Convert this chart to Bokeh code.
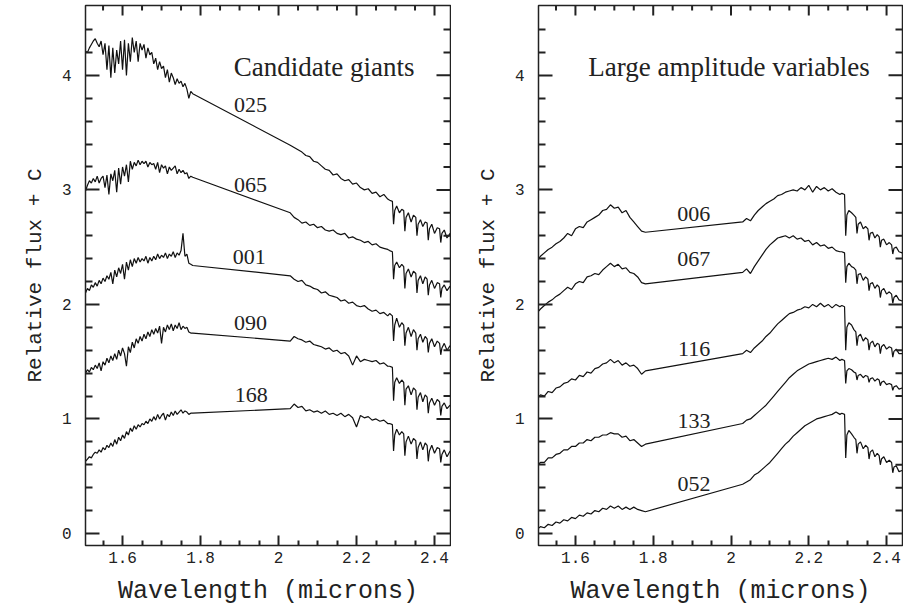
from bokeh.plotting import figure
from bokeh.layouts import row
from bokeh.models import Range1d, FixedTicker, LinearAxis, Label
from bokeh.embed import file_html
from bokeh.resources import INLINE

# ---------------- wavelength grids (microns) ----------------
H_FINE = [1.500, 1.505, 1.510, 1.515, 1.520, 1.525, 1.530, 1.535, 1.540, 1.545,
          1.550, 1.555, 1.560, 1.565, 1.570, 1.575, 1.580, 1.585, 1.590, 1.595,
          1.600, 1.605, 1.610, 1.615, 1.620, 1.625, 1.630, 1.635, 1.640, 1.645,
          1.650, 1.655, 1.660, 1.665, 1.670, 1.675, 1.680, 1.685, 1.690, 1.695,
          1.700, 1.705, 1.710, 1.715, 1.720, 1.725, 1.730, 1.735, 1.740, 1.745,
          1.750, 1.755, 1.760, 1.765, 1.770, 1.775, 1.780]
H_COARSE = [1.50, 1.51, 1.52, 1.53, 1.54, 1.55, 1.56, 1.57, 1.58, 1.59,
            1.60, 1.61, 1.62, 1.63, 1.64, 1.65, 1.66, 1.67, 1.68, 1.69,
            1.70, 1.71, 1.72, 1.73, 1.74, 1.75, 1.76, 1.77, 1.78]
K_WL = [2.03, 2.04, 2.05, 2.06, 2.07, 2.08, 2.09, 2.10, 2.11, 2.12,
        2.13, 2.14, 2.15, 2.16, 2.17, 2.18, 2.19, 2.20, 2.21, 2.22,
        2.23, 2.24, 2.25, 2.26, 2.27, 2.28]
CO_WL = [2.285, 2.292, 2.295, 2.298, 2.303, 2.310, 2.316, 2.321, 2.324, 2.327,
         2.333, 2.340, 2.346, 2.352, 2.355, 2.358, 2.364, 2.370, 2.376, 2.381,
         2.384, 2.387, 2.393, 2.400, 2.407, 2.413, 2.416, 2.419, 2.425, 2.432,
         2.440]

# ---------------- Candidate giants (left) ----------------
S025_H = [4.20, 4.21, 4.20, 4.24, 4.27, 4.30, 4.32, 4.28, 4.25, 4.30,
          4.18, 4.28, 4.05, 4.26, 3.98, 4.24, 4.02, 4.22, 4.10, 4.30,
          4.05, 4.31, 4.00, 4.28, 4.12, 4.33, 4.20, 4.30, 4.12, 4.28,
          4.22, 4.27, 4.15, 4.24, 4.18, 4.20, 4.10, 4.15, 4.05, 4.12,
          4.06, 4.08, 3.98, 4.05, 3.94, 4.02, 3.98, 3.92, 3.97, 3.93,
          3.95, 3.90, 3.93, 3.88, 3.80, 3.86, 3.84]
S025_K = [3.39, 3.37, 3.35, 3.33, 3.30, 3.29, 3.25, 3.24, 3.21, 3.18,
          3.17, 3.13, 3.14, 3.10, 3.08, 3.09, 3.05, 3.06, 3.02, 3.00,
          3.01, 2.97, 2.98, 2.94, 2.96, 2.92]
S025_CO = [2.91, 2.90, 2.70, 2.82, 2.86, 2.80, 2.83, 2.82, 2.64, 2.76,
           2.80, 2.72, 2.78, 2.76, 2.60, 2.70, 2.74, 2.68, 2.72, 2.71,
           2.56, 2.66, 2.70, 2.62, 2.67, 2.66, 2.54, 2.62, 2.65, 2.58,
           2.62]

S065_H = [3.00, 2.99, 3.04, 3.08, 3.06, 3.10, 3.07, 3.12, 3.06, 3.10,
          3.12, 3.02, 3.13, 2.96, 3.14, 3.08, 3.17, 2.98, 3.19, 3.05,
          3.20, 3.12, 3.22, 3.07, 3.25, 3.18, 3.24, 3.21, 3.26, 3.22,
          3.25, 3.23, 3.25, 3.20, 3.24, 3.22, 3.23, 3.18, 3.24, 3.15,
          3.22, 3.19, 3.21, 3.14, 3.20, 3.17, 3.19, 3.21, 3.14, 3.18,
          3.15, 3.17, 3.14, 3.15, 3.10, 3.12, 3.11]
S065_K = [2.80, 2.76, 2.74, 2.71, 2.72, 2.69, 2.70, 2.67, 2.68, 2.65,
          2.64, 2.65, 2.62, 2.61, 2.62, 2.58, 2.59, 2.57, 2.56, 2.54,
          2.55, 2.52, 2.53, 2.50, 2.49, 2.48]
S065_CO = [2.47, 2.46, 2.22, 2.34, 2.37, 2.32, 2.35, 2.33, 2.14, 2.27,
           2.31, 2.24, 2.29, 2.27, 2.10, 2.21, 2.25, 2.18, 2.24, 2.22,
           2.08, 2.17, 2.21, 2.14, 2.19, 2.18, 2.06, 2.14, 2.17, 2.12,
           2.16]

S001_H = [2.06, 2.10, 2.14, 2.12, 2.17, 2.15, 2.19, 2.16, 2.21, 2.18,
          2.23, 2.20, 2.25, 2.22, 2.28, 2.18, 2.30, 2.24, 2.32, 2.27,
          2.35, 2.22, 2.37, 2.30, 2.39, 2.33, 2.40, 2.36, 2.41, 2.37,
          2.40, 2.38, 2.42, 2.36, 2.41, 2.38, 2.42, 2.39, 2.44, 2.40,
          2.43, 2.41, 2.45, 2.40, 2.44, 2.42, 2.46, 2.41, 2.45, 2.43,
          2.47, 2.62, 2.42, 2.44, 2.36, 2.35, 2.34]
S001_K = [2.25, 2.22, 2.20, 2.21, 2.17, 2.16, 2.14, 2.13, 2.10, 2.11,
          2.08, 2.07, 2.06, 2.03, 2.04, 2.01, 2.02, 1.99, 1.98, 1.99,
          1.96, 1.94, 1.95, 1.92, 1.93, 1.90]
S001_CO = [1.92, 1.90, 1.68, 1.82, 1.88, 1.80, 1.84, 1.82, 1.64, 1.75,
           1.80, 1.72, 1.78, 1.75, 1.60, 1.70, 1.74, 1.67, 1.72, 1.70,
           1.58, 1.66, 1.70, 1.63, 1.68, 1.66, 1.56, 1.62, 1.66, 1.60,
           1.64]

S090_H = [1.38, 1.40, 1.43, 1.41, 1.45, 1.43, 1.47, 1.44, 1.49, 1.42,
          1.50, 1.47, 1.53, 1.49, 1.55, 1.51, 1.57, 1.52, 1.60, 1.55,
          1.62, 1.57, 1.46, 1.63, 1.58, 1.67, 1.62, 1.70, 1.66, 1.72,
          1.68, 1.74, 1.70, 1.76, 1.72, 1.78, 1.74, 1.79, 1.75, 1.81,
          1.66, 1.80, 1.76, 1.82, 1.78, 1.83, 1.77, 1.82, 1.79, 1.84,
          1.78, 1.81, 1.79, 1.80, 1.76, 1.75, 1.75]
S090_K = [1.68, 1.72, 1.70, 1.69, 1.67, 1.68, 1.65, 1.64, 1.63, 1.61,
          1.62, 1.59, 1.60, 1.57, 1.58, 1.55, 1.47, 1.55, 1.50, 1.52,
          1.51, 1.50, 1.51, 1.48, 1.49, 1.46]
S090_CO = [1.46, 1.45, 1.16, 1.32, 1.36, 1.31, 1.34, 1.32, 1.12, 1.26,
           1.29, 1.21, 1.27, 1.25, 1.08, 1.19, 1.23, 1.15, 1.21, 1.19,
           1.05, 1.14, 1.18, 1.12, 1.17, 1.15, 1.03, 1.11, 1.14, 1.09,
           1.12]

S168_H = [0.60, 0.63, 0.65, 0.67, 0.66, 0.69, 0.71, 0.70, 0.73, 0.71,
          0.75, 0.73, 0.77, 0.75, 0.79, 0.76, 0.82, 0.78, 0.84, 0.81,
          0.86, 0.83, 0.89, 0.86, 0.92, 0.89, 0.94, 0.91, 0.95, 0.93,
          0.96, 0.95, 0.98, 0.96, 1.00, 0.98, 1.02, 0.99, 1.04, 1.00,
          1.03, 1.05, 0.99, 1.04, 1.02, 1.06, 1.03, 1.07, 1.04, 1.06,
          1.08, 1.05, 1.07, 1.06, 1.04, 1.05, 1.05]
S168_K = [1.09, 1.13, 1.10, 1.11, 1.07, 1.08, 1.06, 1.07, 1.05, 1.07,
          1.04, 1.05, 1.03, 1.05, 1.02, 1.04, 1.01, 0.93, 1.03, 1.01,
          1.02, 0.99, 1.00, 0.98, 0.99, 0.96]
S168_CO = [0.96, 0.95, 0.72, 0.86, 0.91, 0.86, 0.89, 0.87, 0.68, 0.80,
           0.85, 0.78, 0.83, 0.81, 0.65, 0.75, 0.80, 0.73, 0.79, 0.77,
           0.63, 0.72, 0.77, 0.70, 0.75, 0.74, 0.62, 0.69, 0.73, 0.67,
           0.72]

# ---------------- Large amplitude variables (right) ----------------
S006_H = [2.38, 2.42, 2.45, 2.48, 2.50, 2.53, 2.55, 2.58, 2.62, 2.60,
          2.66, 2.68, 2.67, 2.72, 2.74, 2.76, 2.78, 2.82, 2.83, 2.87,
          2.84, 2.85, 2.80, 2.82, 2.76, 2.72, 2.68, 2.64, 2.63]
S006_K = [2.72, 2.75, 2.73, 2.78, 2.82, 2.85, 2.88, 2.90, 2.92, 2.95,
          2.96, 2.98, 2.99, 3.00, 2.99, 3.02, 3.00, 3.04, 2.98, 3.03,
          3.00, 3.02, 2.99, 3.01, 2.98, 2.96]
S006_CO = [2.97, 2.96, 2.60, 2.78, 2.82, 2.80, 2.78, 2.76, 2.62, 2.70,
           2.72, 2.66, 2.68, 2.66, 2.56, 2.62, 2.63, 2.58, 2.61, 2.59,
           2.50, 2.56, 2.57, 2.52, 2.54, 2.52, 2.44, 2.49, 2.50, 2.46,
           2.45]

S067_H = [1.92, 1.96, 1.99, 2.02, 2.04, 2.07, 2.09, 2.12, 2.15, 2.13,
          2.18, 2.20, 2.19, 2.24, 2.25, 2.27, 2.26, 2.30, 2.33, 2.36,
          2.33, 2.35, 2.31, 2.32, 2.28, 2.27, 2.24, 2.19, 2.18]
S067_K = [2.28, 2.31, 2.27, 2.33, 2.38, 2.43, 2.48, 2.52, 2.55, 2.58,
          2.59, 2.60, 2.58, 2.60, 2.57, 2.58, 2.55, 2.56, 2.52, 2.54,
          2.51, 2.52, 2.49, 2.50, 2.47, 2.46]
S067_CO = [2.46, 2.45, 2.19, 2.33, 2.36, 2.33, 2.32, 2.30, 2.18, 2.26,
           2.27, 2.21, 2.24, 2.22, 2.12, 2.18, 2.19, 2.14, 2.17, 2.15,
           2.06, 2.12, 2.14, 2.09, 2.11, 2.09, 2.01, 2.06, 2.08, 2.04,
           2.03]

S116_H = [1.18, 1.21, 1.20, 1.24, 1.23, 1.27, 1.28, 1.31, 1.32, 1.35,
          1.34, 1.38, 1.37, 1.41, 1.40, 1.44, 1.45, 1.48, 1.49, 1.52,
          1.49, 1.51, 1.47, 1.49, 1.46, 1.47, 1.44, 1.39, 1.42]
S116_K = [1.57, 1.60, 1.58, 1.62, 1.65, 1.68, 1.72, 1.75, 1.79, 1.83,
          1.86, 1.89, 1.92, 1.93, 1.95, 1.96, 1.98, 1.97, 2.00, 1.98,
          2.01, 1.98, 2.00, 1.97, 2.00, 1.98]
S116_CO = [1.99, 1.98, 1.60, 1.80, 1.84, 1.82, 1.78, 1.76, 1.64, 1.72,
           1.74, 1.68, 1.71, 1.69, 1.60, 1.66, 1.68, 1.63, 1.66, 1.65,
           1.57, 1.63, 1.65, 1.61, 1.63, 1.62, 1.54, 1.59, 1.61, 1.57,
           1.57]

S133_H = [0.59, 0.62, 0.62, 0.66, 0.66, 0.69, 0.70, 0.73, 0.73, 0.76,
          0.76, 0.79, 0.79, 0.82, 0.81, 0.84, 0.84, 0.86, 0.86, 0.88,
          0.87, 0.87, 0.84, 0.85, 0.81, 0.82, 0.79, 0.76, 0.78]
S133_K = [0.96, 0.99, 1.00, 1.03, 1.06, 1.09, 1.12, 1.16, 1.20, 1.24,
          1.28, 1.32, 1.36, 1.39, 1.42, 1.44, 1.46, 1.48, 1.49, 1.50,
          1.51, 1.52, 1.53, 1.52, 1.54, 1.51]
S133_CO = [1.52, 1.51, 1.31, 1.42, 1.44, 1.43, 1.41, 1.40, 1.34, 1.38,
           1.39, 1.36, 1.38, 1.37, 1.32, 1.35, 1.36, 1.33, 1.35, 1.34,
           1.29, 1.32, 1.33, 1.30, 1.31, 1.30, 1.25, 1.28, 1.29, 1.26,
           1.27]

S052_H = [0.03, 0.06, 0.05, 0.08, 0.07, 0.10, 0.09, 0.12, 0.11, 0.14,
          0.13, 0.16, 0.15, 0.18, 0.17, 0.20, 0.19, 0.22, 0.21, 0.24,
          0.22, 0.24, 0.21, 0.23, 0.21, 0.23, 0.21, 0.20, 0.19]
S052_K = [0.43, 0.45, 0.47, 0.51, 0.53, 0.56, 0.59, 0.62, 0.66, 0.70,
          0.74, 0.78, 0.81, 0.85, 0.88, 0.91, 0.94, 0.96, 0.98, 1.00,
          1.01, 1.02, 1.03, 1.04, 1.06, 1.04]
S052_CO = [1.05, 1.04, 0.66, 0.86, 0.90, 0.87, 0.84, 0.82, 0.70, 0.78,
           0.80, 0.74, 0.77, 0.75, 0.65, 0.71, 0.73, 0.67, 0.70, 0.68,
           0.60, 0.65, 0.67, 0.62, 0.64, 0.62, 0.53, 0.58, 0.59, 0.54,
           0.55]

# ---------------- labels ----------------
GIANT_IDS = ["025", "065", "001", "090", "168"]
GIANT_LX = [1.928, 1.928, 1.925, 1.928, 1.930]
GIANT_LY = [3.74, 3.04, 2.41, 1.84, 1.21]
VAR_IDS = ["006", "067", "116", "133", "052"]
VAR_LX = [1.904, 1.904, 1.905, 1.905, 1.905]
VAR_LY = [2.79, 2.40, 1.61, 0.98, 0.43]

X_START, X_END = 1.505, 2.441
Y_START, Y_END = -0.105, 4.61
X_MAJOR = [1.6, 1.8, 2.0, 2.2, 2.4]
X_MINOR = [1.55, 1.65, 1.7, 1.75, 1.85, 1.9, 1.95, 2.05, 2.1, 2.15, 2.25, 2.3, 2.35]
X_LABELS = {1.6: "1.6", 1.8: "1.8", 2.0: "2", 2.2: "2.2", 2.4: "2.4"}
Y_MAJOR = [0, 1, 2, 3, 4]
Y_MINOR = [0.2, 0.4, 0.6, 0.8, 1.2, 1.4, 1.6, 1.8, 2.2, 2.4, 2.6, 2.8,
           3.2, 3.4, 3.6, 3.8, 4.2, 4.4]

LEFT_SPECTRA = [(S025_H, S025_K, S025_CO), (S065_H, S065_K, S065_CO),
                (S001_H, S001_K, S001_CO), (S090_H, S090_K, S090_CO),
                (S168_H, S168_K, S168_CO)]
RIGHT_SPECTRA = [(S006_H, S006_K, S006_CO), (S067_H, S067_K, S067_CO),
                 (S116_H, S116_K, S116_CO), (S133_H, S133_K, S133_CO),
                 (S052_H, S052_K, S052_CO)]

INK = "#222222"
FRAME = "#222222"
MONO = "Liberation Mono"
SERIF = "Liberation Serif"


def style_ticks(ax, major_len, minor_len):
    ax.major_tick_in = major_len
    ax.minor_tick_in = minor_len
    ax.major_tick_out = 0
    ax.minor_tick_out = 0
    ax.major_tick_line_color = FRAME
    ax.minor_tick_line_color = FRAME
    ax.major_tick_line_width = 2
    ax.minor_tick_line_width = 2
    ax.axis_line_color = FRAME


def style_text(ax, label, label_size, tick_standoff, label_standoff):
    ax.major_label_text_font = MONO
    ax.major_label_text_font_size = "16px"
    ax.major_label_text_color = INK
    ax.major_label_standoff = tick_standoff
    ax.axis_label = label
    ax.axis_label_text_font = MONO
    ax.axis_label_text_font_style = "normal"
    ax.axis_label_text_font_size = label_size
    ax.axis_label_text_color = INK
    ax.axis_label_standoff = label_standoff


def panel(spectra, h_grid, ids, lx, ly, title, tx, width, border_left):
    p = figure(width=width, height=614,
               x_range=Range1d(X_START, X_END), y_range=Range1d(Y_START, Y_END),
               x_axis_type=None, y_axis_type=None,
               output_backend="svg", toolbar_location=None,
               min_border_left=border_left, min_border_right=1,
               min_border_top=5, min_border_bottom=69)
    p.outline_line_color = FRAME
    p.outline_line_width = 1.5
    p.background_fill_color = "white"

    ax = LinearAxis(ticker=FixedTicker(ticks=X_MAJOR, minor_ticks=X_MINOR))
    ax.major_label_overrides = X_LABELS
    style_ticks(ax, 10, 5)
    style_text(ax, "Wavelength (microns)", "25px", 6, 11)
    p.add_layout(ax, "below")

    ay = LinearAxis(ticker=FixedTicker(ticks=Y_MAJOR, minor_ticks=Y_MINOR))
    style_ticks(ay, 14, 7)
    style_text(ay, "Relative flux + C", "21px", 14, 12)
    p.add_layout(ay, "left")

    for h_vals, k_vals, co_vals in spectra:
        xs = list(h_grid) + K_WL + CO_WL
        ys = list(h_vals) + list(k_vals) + list(co_vals)
        p.line(xs, ys, line_color="#111111", line_width=1.2)

    # inward ticks on top and right edges: half of each dash is clipped by the frame
    kw = dict(marker="dash", line_color=FRAME, line_width=2)
    p.scatter(X_MAJOR, [Y_END] * len(X_MAJOR), size=20, angle=1.5708, **kw)
    p.scatter(X_MINOR, [Y_END] * len(X_MINOR), size=10, angle=1.5708, **kw)
    p.scatter([X_END] * len(Y_MAJOR), Y_MAJOR, size=28, angle=0, **kw)
    p.scatter([X_END] * len(Y_MINOR), Y_MINOR, size=14, angle=0, **kw)

    for t, x, y in zip(ids, lx, ly):
        p.add_layout(Label(x=x, y=y, text=t, text_font=SERIF,
                           text_font_size="22px", text_align="center",
                           text_baseline="middle", text_color=INK))
    p.add_layout(Label(x=tx, y=4.07, text=title, text_font=SERIF,
                       text_font_size="27px", text_align="center",
                       text_baseline="middle", text_color=INK))
    return p


p1 = panel(LEFT_SPECTRA, H_FINE, GIANT_IDS, GIANT_LX, GIANT_LY,
           "Candidate giants", 2.117, 451, 85)
p2 = panel(RIGHT_SPECTRA, H_COARSE, VAR_IDS, VAR_LX, VAR_LY,
           "Large amplitude variables", 1.995, 452, 87)

layout = row(p1, p2, spacing=0)
open("out.html", "w").write(file_html(layout, INLINE))
